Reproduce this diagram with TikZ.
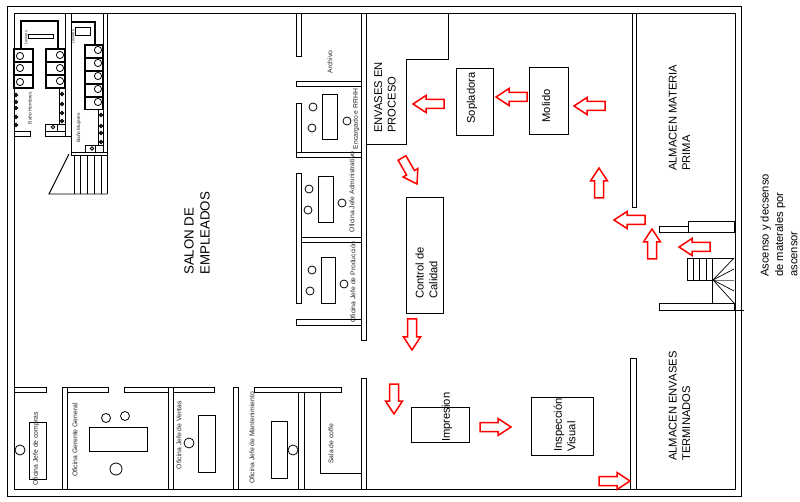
\documentclass[tikz,border=0pt]{standalone}
\usepackage{fontspec}
\setmainfont{Liberation Sans}
\usetikzlibrary{calc}
\tikzset{
  wall/.style={draw=black,fill=white,line width=0.95pt},
  line/.style={draw=black,line width=0.95pt},
  thinline/.style={draw=black,line width=0.7pt},
  thick2/.style={draw=black,line width=1.4pt},
  desk/.style={draw=black,fill=white,line width=0.95pt},
  seat/.style={draw=black,fill=white,line width=0.8pt},
  flow/.style={draw=red,fill=white,line width=1.5pt,miter limit=6},
  big/.style={rotate=90,anchor=west,align=left,inner sep=0pt,font=\fontsize{11.2}{13.6}\selectfont},
  proc/.style={rotate=90,anchor=center,align=left,inner sep=0pt,font=\fontsize{11.2}{13.6}\selectfont},
  small/.style={rotate=90,anchor=center,inner sep=0pt,text=black!85,font=\fontsize{6.8}{8}\selectfont},
  tiny/.style={rotate=90,anchor=center,inner sep=0pt,text=black!85,font=\fontsize{4.8}{5}\selectfont},
}
\newcommand{\flowarr}[2]{%
  \coordinate (tl) at (#1); \coordinate (hd) at (#2);
  \coordinate (nk) at ($(hd)!13pt!(tl)$);
  \draw[flow] ($(tl)!4.5pt!90:(hd)$) -- ($(nk)!4.5pt!90:(hd)$) -- ($(nk)!8.5pt!90:(hd)$) -- (hd)
    -- ($(nk)!8.5pt!-90:(hd)$) -- ($(nk)!4.5pt!-90:(hd)$) -- ($(tl)!4.5pt!-90:(hd)$) -- cycle;
}
\begin{document}
\begin{tikzpicture}[x=1pt,y=-1pt]
\useasboundingbox[fill=white] (0,0) rectangle (800,502);
% outer double wall
\draw[line] (7,6) rectangle (741,496);
\draw[line] (14,13) rectangle (735,489);
\draw[thinline] (734,310) -- (744,310);

% --- toilets: men
\draw[wall] (65,13) rectangle (71,136);
\draw[thick2] (21,48) -- (21,21) -- (58,21) -- (58,48);
\draw[desk] (28,34) rectangle (53,38);
\node[tiny,font=\fontsize{4}{5}\selectfont] at (26,38) {Lockers};
\foreach \y/\c in {49/56,62/68,75/81}{
  \draw[thick2] (14,\y) rectangle (33,\y+13);
  \draw[thick2] (46,\y) rectangle (65,\y+13);
}
\foreach \y in {56,68,82}{\draw[seat] (20,\y) circle (3.6);}
\foreach \y in {55,68,81}{\draw[seat] (60,\y) circle (3.6);}
\foreach \y in {95,102,108,117,125}{\draw[thick2,fill=white] (16,\y) circle (1.5);}
\draw[wall] (14,131) rectangle (30,136);
\draw[wall] (45,131) rectangle (65,136);
\draw[line] (45,131) -- (45,124) -- (65,124);
\draw[line] (57,124) -- (57,131);
\draw[seat] (53,127) circle (1.8);
\draw[line] (59,89) -- (59,124);
\foreach \y in {94,104,113,121}{\draw[thick2,fill=white] (62,\y) circle (1.5);}
\node[tiny] at (30,108) {Baño Hombres};

% --- toilets: women
\draw[wall] (103,13) rectangle (107,155);
\draw[thick2] (71,22) -- (95,22) -- (95,45);
\draw[desk] (75,27) rectangle (90,35);
\node[tiny,font=\fontsize{4}{5}\selectfont] at (73,37) {Lockers};
\foreach \y in {45,58,71,84,97}{\draw[thick2] (85,\y) rectangle (103,\y+12.5);}
\foreach \y in {50,63,76,89,102}{\draw[seat] (98,\y) circle (3.6);}
\draw[line] (98,109) -- (98,145);
\foreach \y in {115,126,133,142}{\draw[thick2,fill=white] (101,\y) circle (1.5);}
\draw[line] (85,152) -- (85,145) -- (103,145);
\draw[line] (95,145) -- (95,152);
\draw[seat] (92,148.5) circle (1.8);
\draw[line] (71,136) -- (71,152);
\draw[wall] (71,152) rectangle (107,155);
\node[tiny] at (79,128) {Baño Mujeres};

% stairs at toilets
\draw[line] (69,154) -- (49,194) -- (107,194);
\foreach \x in {74,80,87,94,101,107}{\draw[line] (\x,155) -- (\x,194);}

% --- central wall
\draw[wall] (361,13) rectangle (366,340);
\draw[wall] (361,378) rectangle (366,489);

% offices upper
\draw[wall] (296,13) rectangle (301,56);
\draw[wall] (296,81) rectangle (361,86);
\draw[wall] (296,103) rectangle (301,152);
\draw[wall] (296,152) rectangle (361,157);
\draw[wall] (296,173) rectangle (301,303);
\draw[wall] (301,237) rectangle (361,242);
\draw[wall] (296,319) rectangle (361,325);
\draw[desk] (322,94) rectangle (337,139);
\draw[desk] (318,176) rectangle (333,222);
\draw[desk] (321,257) rectangle (335,303);
\foreach \x/\y in {313/107,312/128,347/121,309/189,308/210,342/203,312/270,310/291,344/284}{\draw[seat] (\x,\y) circle (4);}
\node[small] at (330,62) {Archivo};
\node[small] at (356,119) {Encargado e RRHH};
\node[small] at (352,192) {Oficina Jefe Administrativo};
\node[small] at (353,282) {Oficina Jefe de Producción};

% offices lower
\draw[wall] (14,387) rectangle (46,392);
\draw[wall] (62,387) rectangle (67,489);
\draw[wall] (67,387) rectangle (108,392);
\draw[wall] (124,387) rectangle (168,392);
\draw[wall] (168,387) rectangle (173,489);
\draw[wall] (173,387) rectangle (214,392);
\draw[wall] (233,387) rectangle (238,489);
\draw[wall] (298,392) rectangle (304,489);
\draw[wall] (254,387) rectangle (341,392);
\draw[line] (320,392) -- (320,473) -- (361,473);
\draw[desk] (29,422) rectangle (46,479);
\draw[desk] (89,427) rectangle (147,451);
\draw[desk] (198,415) rectangle (215,472);
\draw[desk] (271,421) rectangle (287,478);
\draw[seat] (20,450) circle (5);
\draw[seat] (106,418) circle (4.5);
\draw[seat] (125,416) circle (4.5);
\draw[seat] (116,469) circle (6);
\draw[seat] (189,443) circle (5);
\draw[seat] (293,450) circle (5);
\node[small] at (36,449) {Oficina Jefe de compras};
\node[small] at (75,440) {Oficina Gerente General};
\node[small] at (179,435) {Oficina Jefe de Ventas};
\node[small] at (252,438) {Oficina Jefe de Mantenimiento};
\node[small] at (331,444) {Sala de coffe};

% process area
\draw[line] (366,144) -- (406,144) -- (406,59) -- (448,59) -- (448,13);
\node[big] at (385,133) {ENVASES EN\\PROCESO};
\node[big,font=\fontsize{13.3}{16}\selectfont] at (197,275) {SALON DE\\EMPLEADOS};

\node[draw=black,line width=0.95pt,minimum width=67pt,minimum height=37pt,rotate=90,inner sep=0pt] (soplabox) at (474.5,101.5) {};
\node[proc] (sopla) at (472,98) {Sopladora};
\node[draw=black,line width=0.95pt,minimum width=67pt,minimum height=39pt,rotate=90,inner sep=0pt] (molibox) at (548.5,100.5) {};
\node[proc] (moli) at (546,106) {Molido};
\node[draw=black,line width=0.95pt,minimum width=116pt,minimum height=37pt,rotate=90,inner sep=0pt] (ctrlbox) at (424.5,255) {};
\node[big] (ctrl) at (426.5,299) {Control de\\Calidad};
\node[draw=black,line width=0.95pt,minimum width=35pt,minimum height=58pt,rotate=90,inner sep=0pt] (imprbox) at (440,424.5) {};
\node[big] (impr) at (447,442) {Impresion};
\node[draw=black,line width=0.95pt,minimum width=58pt,minimum height=62pt,rotate=90,inner sep=0pt] (inspbox) at (562,426) {};
\node[big] (insp) at (564.5,452) {Inspección\\Visual};

% right walls
\draw[wall] (632,13) rectangle (636,207);
\draw[wall] (630,358) rectangle (636,489);
\draw[wall] (659,226) rectangle (688,232);
\draw[wall] (688,221) rectangle (734,232);
\draw[wall] (659,303) rectangle (734,310);

% stairs right
\draw[line] (687,258) rectangle (712,280);
\foreach \x in {693,699,706}{\draw[line] (\x,258) -- (\x,280);}
\draw[line] (712,258) -- (734,258);
\draw[line] (712,258) -- (712,303);
\draw[thinline] (713,280) -- (734,258);
\draw[thinline] (713,280) -- (734,269);
\draw[thinline,draw=black!55] (713,280) -- (734,280);
\draw[thinline] (713,280) -- (734,291);
\draw[thinline] (713,280) -- (734,303);

\node[big] at (679.5,171) {ALMACEN MATERIA\\PRIMA};
\node[big] at (679.5,461) {ALMACEN ENVASES\\TERMINADOS};
\node[big,font=\fontsize{11.2}{14.3}\selectfont] at (779,277) {Ascenso y decsenso\\de materales por\\ascensor};

% flow arrows
\flowarr{444,104}{413,104}
\flowarr{527,97}{496,97}
\flowarr{605,106}{574,106}
\flowarr{599,198}{599,168}
\flowarr{402,158}{417,184}
\flowarr{412,319}{412,350}
\flowarr{394,384}{394,414}
\flowarr{480,427}{511,427}
\flowarr{599,481}{630,481}
\flowarr{645,220}{614,220}
\flowarr{652,259}{652,229}
\flowarr{710,247}{679,247}
\end{tikzpicture}
\end{document}
